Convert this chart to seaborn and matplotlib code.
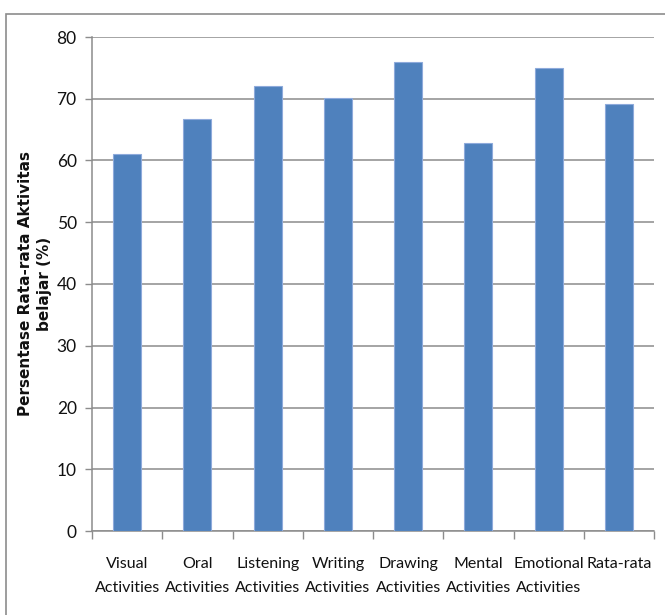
import matplotlib
matplotlib.use("Agg")
import matplotlib.pyplot as plt
from matplotlib.patches import Rectangle
import seaborn as sns
import pandas as pd

categories = ["Visual\nActivities", "Oral\nActivities", "Listening\nActivities",
              "Writing\nActivities", "Drawing\nActivities", "Mental\nActivities",
              "Emotional\nActivities", "Rata-rata"]
values = [61.1, 66.7, 72.1, 70.2, 76.0, 62.9, 75.0, 69.1]
y_ticks = [0, 10, 20, 30, 40, 50, 60, 70, 80]
y_label = "Persentase Rata-rata Aktivitas\nbelajar (%)"

df = pd.DataFrame({"kategori": categories, "nilai": values})

sns.set_theme(style="white")
plt.rcParams["font.family"] = ["Lato", "DejaVu Sans"]

W, H = 665, 615
fig = plt.figure(figsize=(W / 100, H / 100), dpi=100)
ax = fig.add_axes([92 / W, 1 - 531 / H, (654 - 92) / W, (531 - 37) / H])

sns.barplot(data=df, x="kategori", y="nilai", ax=ax, color="#4F81BD",
            width=0.4, saturation=1, edgecolor="#8EAADB", linewidth=0.8,
            zorder=3)

ax.set_ylim(0, 80)
ax.set_xlim(-0.5, len(categories) - 0.5)
ax.set_yticks(y_ticks)
ax.yaxis.grid(True, color="#8C8C8C", linewidth=1.1, zorder=0)
ax.xaxis.grid(False)

for side in ("top", "right"):
    ax.spines[side].set_visible(False)
for side in ("left", "bottom"):
    ax.spines[side].set_color("#8C8C8C")
    ax.spines[side].set_linewidth(1.1)

# category separators as ticks on the x axis
ax.set_xticks([i - 0.5 for i in range(len(categories) + 1)], minor=True)
ax.tick_params(axis="x", which="minor", length=6, width=1, color="#8C8C8C", bottom=True)
ax.tick_params(axis="x", which="major", length=0, pad=19, labelsize=11.5,
               labelcolor="#111111")
ax.tick_params(axis="y", length=5, width=1, color="#8C8C8C", left=True,
               pad=6, labelsize=12.5, labelcolor="#111111")
for lbl in ax.get_xticklabels():
    lbl.set_linespacing(1.85)
    lbl.set_verticalalignment("top")

ax.set_xlabel("")
ax.set_ylabel(y_label, fontsize=11, fontweight="bold", color="#111111",
              family=["DejaVu Sans"], linespacing=1.35, labelpad=3)

# chart frame
fig.patches.append(Rectangle((6 / W, -0.1), 1.2, (1 - 14 / H) + 0.1,
                             transform=fig.transFigure, fill=False,
                             edgecolor="#8C8C8C", linewidth=1.2))

fig.savefig("out.png", dpi=100, facecolor="white")
